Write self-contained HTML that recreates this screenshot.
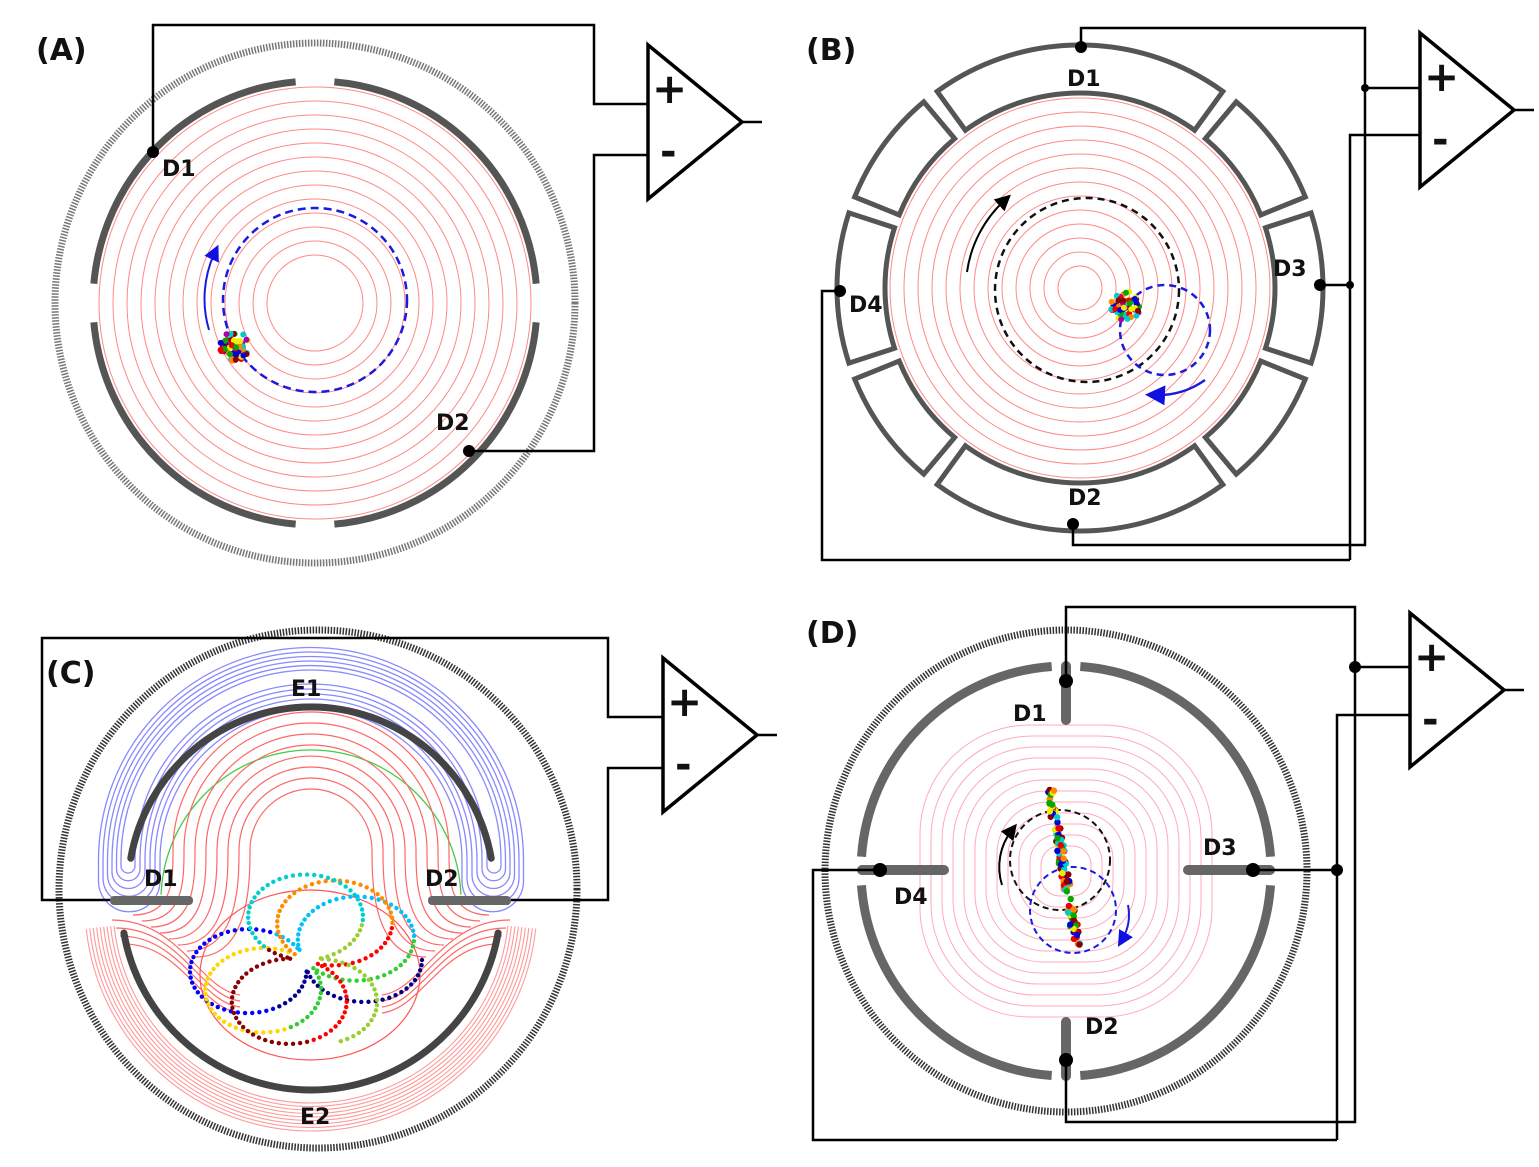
<!DOCTYPE html>
<html><head><meta charset="utf-8"><style>
html,body{margin:0;padding:0;background:#fff}
svg{display:block}
text{font-family:"DejaVu Sans","Liberation Sans",sans-serif;font-weight:bold;fill:#111}
</style></head><body>
<svg id="s" width="1539" height="1167" viewBox="0 0 1539 1167" xmlns="http://www.w3.org/2000/svg">
<defs>
<marker id="ab" markerWidth="8" markerHeight="8" refX="4" refY="4" orient="auto"><path d="M0,0 L8,4 L0,8z" fill="#1010e0"/></marker>
<marker id="ak" markerWidth="8" markerHeight="8" refX="4" refY="4" orient="auto"><path d="M0,0 L8,4 L0,8z" fill="#000"/></marker>
</defs>
<g id="g"></g>
<g id="t">
<text x="36" y="60" font-size="30">(A)</text>
<text x="806" y="60" font-size="30">(B)</text>
<text x="46" y="683" font-size="30">(C)</text>
<text x="806" y="643" font-size="30">(D)</text>
<text x="162" y="176" font-size="22">D1</text>
<text x="436" y="430" font-size="22">D2</text>
<text x="1067" y="86" font-size="22">D1</text>
<text x="1068" y="505" font-size="22">D2</text>
<text x="1273" y="276" font-size="22">D3</text>
<text x="849" y="312" font-size="22">D4</text>
<text x="291" y="696" font-size="22">E1</text>
<text x="300" y="1124" font-size="22">E2</text>
<text x="144" y="886" font-size="22">D1</text>
<text x="425" y="886" font-size="22">D2</text>
<text x="1013" y="721" font-size="22">D1</text>
<text x="1085" y="1034" font-size="22">D2</text>
<text x="1203" y="855" font-size="22">D3</text>
<text x="894" y="904" font-size="22">D4</text>
</g>
</svg>
<script>
const g=document.getElementById('g');const NS='http://www.w3.org/2000/svg';
function el(t,a){const e=document.createElementNS(NS,t);for(const k in a)e.setAttribute(k,a[k]);g.appendChild(e);return e;}
function circ(cx,cy,r,st,w,extra){return el('circle',Object.assign({cx,cy,r,fill:'none',stroke:st,'stroke-width':w},extra||{}));}
function line(pts,w){el('polyline',{points:pts,fill:'none',stroke:'#000','stroke-width':w||2.5});}
function dot(x,y,r){el('circle',{cx:x,cy:y,r:r||6,fill:'#000'});}
function arc(cx,cy,r,a1,a2,st,w,extra){const R=Math.PI/180;const x1=cx+r*Math.cos(a1*R),y1=cy+r*Math.sin(a1*R),x2=cx+r*Math.cos(a2*R),y2=cy+r*Math.sin(a2*R);const large=(a2-a1)>180?1:0;return el('path',Object.assign({d:`M${x1},${y1} A${r},${r} 0 ${large} 1 ${x2},${y2}`,fill:'none',stroke:st,'stroke-width':w},extra||{}));}
function amp(x,y){el('path',{d:`M${x},${y} L${x},${y+154} L${x+94},${y+77} Z`,fill:'#fff',stroke:'#000','stroke-width':3.5});line(`${x+94},${y+77} ${x+114},${y+77}`,2.5);
 const t1=el('text',{x:x+4,y:y+58,'font-size':'42','font-weight':'normal'});t1.textContent='+';const t2=el('text',{x:x+12,y:y+120,'font-size':'40','font-weight':'normal'});t2.textContent='-';}
let seed=7;function rnd(){seed=(seed*9301+49297)%233280;return seed/233280;}
function ion(cx,cy,r){const c=['#e00','#0a0','#00d','#ee0','#f80','#0cc','#a0a','#800'];for(let i=0;i<60;i++){const a=rnd()*6.28,d=Math.sqrt(rnd())*r;el('circle',{cx:cx+d*Math.cos(a),cy:cy+d*Math.sin(a),r:3,fill:c[i%8]});}}
// ===== A =====
circ(315,303,260,'#777',7,{'stroke-dasharray':'1.5 1.5'});
for(let r=48;r<=218;r+=14)circ(315,303,r,'#f88',1);
[[-87,-3],[3,87],[93,177],[183,267]].forEach(a=>arc(315,303,222,a[0]+2,a[1]-2,'#555',7));
circ(315,300,92,'#1a1ae0',2.5,{'stroke-dasharray':'8 5'});
el('path',{d:'M209,330 A110,110 0 0 1 215,252',fill:'none',stroke:'#1a1ae0','stroke-width':2,'marker-end':'url(#ab)'});
ion(234,346,15);
line('153,152 153,25 594,25 594,104 648,104');line('469,451 594,451 594,155 648,155');
dot(153,152);dot(469,451);amp(648,45);
// ===== B =====
const bx=1080,by=288;
for(let r=22;r<=190;r+=14)circ(bx,by,r,'#f88',1);
[[-126,-54],[-50,-22],[-18,18],[22,50],[54,126],[130,158],[162,198],[202,230]].forEach(s=>{const R=Math.PI/180;const a1=s[0]*R,a2=s[1]*R;const ro=243,ri=195;const lg=(s[1]-s[0])>180?1:0;
 el('path',{d:`M${bx+ro*Math.cos(a1)},${by+ro*Math.sin(a1)} A${ro},${ro} 0 ${lg} 1 ${bx+ro*Math.cos(a2)},${by+ro*Math.sin(a2)} L${bx+ri*Math.cos(a2)},${by+ri*Math.sin(a2)} A${ri},${ri} 0 ${lg} 0 ${bx+ri*Math.cos(a1)},${by+ri*Math.sin(a1)} Z`,fill:'none',stroke:'#555','stroke-width':5});});
circ(1087,290,92,'#111',2.5,{'stroke-dasharray':'7 5'});
circ(1165,330,45,'#1a1ae0',2.5,{'stroke-dasharray':'7 5'});
el('path',{d:'M967,272 A120,120 0 0 1 1005,200',fill:'none',stroke:'#000','stroke-width':2,'marker-end':'url(#ak)'});
el('path',{d:'M1205,380 A80,80 0 0 1 1155,395',fill:'none',stroke:'#1a1ae0','stroke-width':2.5,'marker-end':'url(#ab)'});
ion(1126,306,15);
line('1081,47 1081,28 1365,28 1365,545 1073,545 1073,524');line('1365,88 1420,88');
line('1320,285 1350,285');line('1350,560 1350,135 1420,135');line('840,291 822,291 822,560 1350,560');
dot(1081,47);dot(1073,524);dot(1320,285);dot(840,291);dot(1365,88,4);dot(1350,285,4);amp(1420,33);
// ===== C =====
circ(318,889,259,'#333',7,{'stroke-dasharray':'1.5 1.5'});
for(let i=0;i<6;i++){const r1=190+i*4.5,r2=176-i*5;const y=860,yb=866+i*3;const cx=311;const h=(r1-r2)/2;
 el('path',{d:`M${cx-r2},${y} A${r2},${r2} 0 0 1 ${cx+r2},${y} L${cx+r2},${yb} A${h},${h} 0 0 0 ${cx+r1},${yb} L${cx+r1},${y} A${r1},${r1} 0 0 0 ${cx-r1},${y} L${cx-r1},${yb} A${h},${h} 0 0 0 ${cx-r2},${yb} Z`,fill:'none',stroke:'#88f','stroke-width':1.3});}
arc(311,890,183,190,350,'#444',7,{'stroke-linecap':'round'});
arc(311,900,150,182,358,'#4c4',1.3);
for(let k=0;k<8;k++){const r=138-k*11;const w=40+k*2;
 el('path',{d:`M${311-r-w},${915+k*6} C${311-r},${915+k*6} ${311-r},${880} ${311-r},${850} A${r},${r} 0 0 1 ${311+r},850 C${311+r},880 ${311+r},${915+k*6} ${311+r+w},${915+k*6}`,fill:'none',stroke:'#f66','stroke-width':1.2});}
for(let i=0;i<9;i++){const r=198+i*3.5;arc(311,905,r,6,174,'#f99',1.1);}
for(let k=0;k<4;k++){const y=920+k*8;el('path',{d:`M${112+k*4},${y} C${180},${y} ${200},${990+k*6} ${240},${995+k*6}`,fill:'none',stroke:'#f66','stroke-width':1.2});el('path',{d:`M${510-k*4},${y} C${442},${y} ${422},${990+k*6} ${382},${995+k*6}`,fill:'none',stroke:'#f66','stroke-width':1.2});}
arc(311,900,190,10,170,'#444',7,{'stroke-linecap':'round'});
el('ellipse',{cx:310,cy:975,rx:110,ry:85,fill:'none',stroke:'#f55','stroke-width':1.2});
const cc=['#00008b','#0000ff','#00bfff','#32cd32','#ffd700','#ff8c00','#ff0000','#8b0000','#00ced1','#9acd32'];
for(let i=0;i<330;i++){const t=i/330*Math.PI*2*3;const rr=80*Math.abs(Math.cos(7/6*t))+10;el('circle',{cx:305+rr*Math.cos(t+i*0.004)*1.3,cy:960+rr*Math.sin(t+i*0.004)*0.95,r:2.2,fill:cc[Math.floor(i/33)]});}
el('rect',{x:110,y:896,width:83,height:9,rx:4,fill:'#666'});el('rect',{x:428,y:896,width:83,height:9,rx:4,fill:'#666'});
line('110,900 42,900 42,638 608,638 608,717 663,717');line('511,900 608,900 608,768 663,768');
amp(663,658);
// ===== D =====
const dx=1066,dy=871;
circ(dx,dy,241,'#333',7,{'stroke-dasharray':'1.5 1.5'});
for(let i=0;i<12;i++){const s=25+i*11;el('rect',{x:dx-s,y:dy-s,width:2*s,height:2*s,rx:s*0.75,fill:'none',stroke:'#fab','stroke-width':1});}
[[-86,-4],[4,86],[94,176],[184,266]].forEach(a=>arc(dx,dy,205,a[0],a[1],'#666',9));
el('line',{x1:1066,y1:666,x2:1066,y2:720,stroke:'#666','stroke-width':10,'stroke-linecap':'round'});
el('line',{x1:1066,y1:1022,x2:1066,y2:1076,stroke:'#666','stroke-width':10,'stroke-linecap':'round'});
el('line',{x1:862,y1:870,x2:944,y2:870,stroke:'#666','stroke-width':10,'stroke-linecap':'round'});
el('line',{x1:1188,y1:870,x2:1270,y2:870,stroke:'#666','stroke-width':10,'stroke-linecap':'round'});
circ(1060,860,50,'#111',2,{'stroke-dasharray':'6 4'});circ(1073,910,43,'#1a1ae0',2,{'stroke-dasharray':'6 4'});
el('path',{d:'M1002,885 A60,60 0 0 1 1012,830',fill:'none',stroke:'#000','stroke-width':2,'marker-end':'url(#ak)'});
el('path',{d:'M1128,905 A50,50 0 0 1 1122,940',fill:'none',stroke:'#1a1ae0','stroke-width':2,'marker-end':'url(#ab)'});
const pc=['#e00','#0a0','#00d','#ee0','#f80','#0cc','#800'];
for(let i=0;i<110;i++){const t=rnd();el('circle',{cx:1050+t*28+(rnd()-0.5)*8,cy:790+t*160,r:3.2,fill:pc[i%7]});}
line('1066,681 1066,607 1355,607 1355,1122 1066,1122 1066,1060');line('1355,667 1410,667');
line('1253,870 1337,870');line('1337,1140 1337,715 1410,715');line('880,870 813,870 813,1140 1337,1140');
dot(1066,681,7);dot(1066,1060,7);dot(1253,870,7);dot(880,870,7);dot(1355,667,6);dot(1337,870,6);
amp(1410,613);
</script>
</body></html>
